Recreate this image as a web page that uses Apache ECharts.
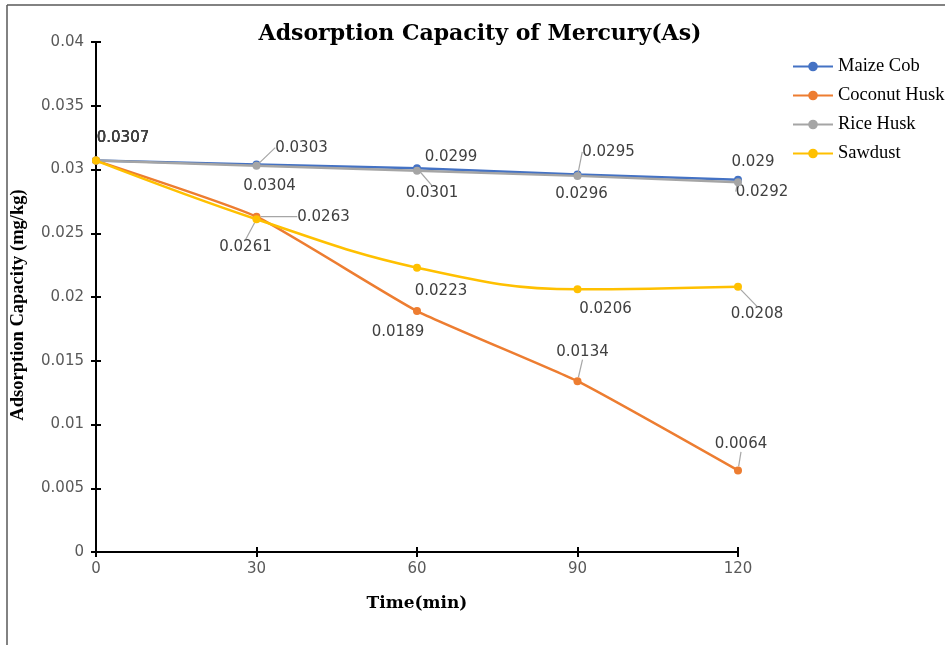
<!DOCTYPE html>
<html>
<head>
<meta charset="utf-8">
<script src="https://cdn.jsdelivr.net/npm/echarts@6/dist/echarts.min.js"></script>
<style>html,body{margin:0;padding:0;background:#fff}#c{width:945px;height:645px}</style>
</head>
<body>
<div id="c"></div>
<script>
const times = [0, 30, 60, 90, 120];
const yTicks = [0, 0.005, 0.01, 0.015, 0.02, 0.025, 0.03, 0.035, 0.04];
const seriesNames = ['Maize Cob', 'Coconut Husk', 'Rice Husk', 'Sawdust'];
const maizeCob = [0.0307, 0.0304, 0.0301, 0.0296, 0.0292];
const coconutHusk = [0.0307, 0.0263, 0.0189, 0.0134, 0.0064];
const riceHusk = [0.0307, 0.0303, 0.0299, 0.0295, 0.029];
const sawdust = [0.0307, 0.0261, 0.0223, 0.0206, 0.0208];

// label placement (style only): [dx, dy] offsets of each value label from its point
const labelOffsets = [
  [[27,-22],[13,22],[15,25],[4,20],[24,12]],
  [[27,-22],[67,0],[-19,21],[5,-29],[3,-26]],
  [[27,-22],[45,-18],[34,-14],[31,-24],[15,-20]],
  [[27,-22],[-11,28],[24,23],[28,20],[19,27]]
];
const leaders = [
  [0,0,1,0,1],
  [0,1,0,1,1],
  [0,1,0,1,0],
  [0,1,0,0,1]
];
const colors = ['#4472C4', '#ED7D31', '#A5A5A5', '#FFC000'];
const allValues = [maizeCob, coconutHusk, riceHusk, sawdust];
const smoothness = [false, 0.15, false, 0.4];

const series = allValues.map((vals, si) => ({
  name: seriesNames[si],
  type: 'line',
  xAxisIndex: 0,
  yAxisIndex: 0,
  smooth: smoothness[si],
  symbol: 'circle',
  symbolSize: 8,
  itemStyle: { color: colors[si] },
  lineStyle: { width: 2.5, color: colors[si] },
  data: vals.map((v, i) => ({
    value: [times[i], v],
    labelLine: { show: !!leaders[si][i] }
  })),
  label: {
    show: true,
    position: 'inside',
    align: 'center',
    verticalAlign: 'middle',
    fontFamily: 'DejaVu Sans',
    fontSize: 15,
    color: '#404040',
    formatter: p => String(p.value[1])
  },
  labelLine: { show: true, lineStyle: { color: '#A6A6A6', width: 1.2 } },
  labelLayout: p => {
    const o = labelOffsets[si][p.dataIndex];
    return { dx: o[0], dy: o[1] };
  },
  z: 2 + si
}));

const axisCommonX = {
  type: 'value', min: 0, max: 120, interval: 30
};
const axisCommonY = {
  type: 'value', min: yTicks[0], max: yTicks[yTicks.length - 1], interval: yTicks[1] - yTicks[0]
};

const chart = echarts.init(document.getElementById('c'));
chart.setOption({
  animation: false,
  backgroundColor: '#fff',
  title: {
    text: 'Adsorption Capacity of Mercury(As)',
    left: 475, top: 18, textAlign: 'center',
    textStyle: { fontFamily: 'DejaVu Serif', fontWeight: 'bold', fontSize: 22, color: '#000' }
  },
  legend: {
    orient: 'vertical', left: 787, top: 52,
    itemWidth: 40, itemHeight: 12, itemGap: 10,
    data: seriesNames,
    textStyle: { fontFamily: 'Liberation Serif', fontSize: 18.5, color: '#000' }
  },
  grid: { left: 96, right: 207, top: 42, bottom: 93, containLabel: false, outerBoundsMode: 'none' },
  xAxis: [
    Object.assign({}, axisCommonX, {
      position: 'bottom',
      name: 'Time(min)', nameLocation: 'middle', nameGap: 43,
      nameTextStyle: { fontFamily: 'DejaVu Serif', fontWeight: 'bold', fontSize: 17, color: '#000' },
      axisLine: { show: true, lineStyle: { color: '#000', width: 2 } },
      axisTick: { show: true, length: 5, lineStyle: { color: '#000', width: 2 } },
      axisLabel: { fontFamily: 'DejaVu Sans', fontSize: 15, color: '#595959', margin: 10 },
      splitLine: { show: false }
    }),
    Object.assign({}, axisCommonX, {
      position: 'bottom',
      axisLine: { show: false },
      axisTick: { show: true, inside: true, length: 5, lineStyle: { color: '#000', width: 2 } },
      axisLabel: { show: false },
      splitLine: { show: false }
    })
  ],
  yAxis: [
    Object.assign({}, axisCommonY, {
      position: 'left',
      name: 'Adsorption Capacity (mg/kg)', nameLocation: 'middle', nameGap: 68, nameRotate: 90,
      nameTextStyle: { fontFamily: 'Liberation Serif', fontWeight: 'bold', fontSize: 18.5, color: '#000', padding: [0, 16, 0, 0] },
      axisLine: { show: true, lineStyle: { color: '#000', width: 2 } },
      axisTick: { show: true, length: 5, lineStyle: { color: '#000', width: 2 } },
      axisLabel: { fontFamily: 'DejaVu Sans', fontSize: 15, color: '#595959', margin: 12 },
      splitLine: { show: false }
    }),
    Object.assign({}, axisCommonY, {
      position: 'left',
      axisLine: { show: false },
      axisTick: { show: true, inside: true, length: 5, lineStyle: { color: '#000', width: 2 } },
      axisLabel: { show: false },
      splitLine: { show: false }
    })
  ],
  graphic: [
    { type: 'line', shape: { x1: 7, y1: 5, x2: 945, y2: 5 }, style: { stroke: '#595959', lineWidth: 1.5 } },
    { type: 'line', shape: { x1: 7, y1: 5, x2: 7, y2: 645 }, style: { stroke: '#595959', lineWidth: 1.5 } }
  ],
  series: series
});
</script>
</body>
</html>
